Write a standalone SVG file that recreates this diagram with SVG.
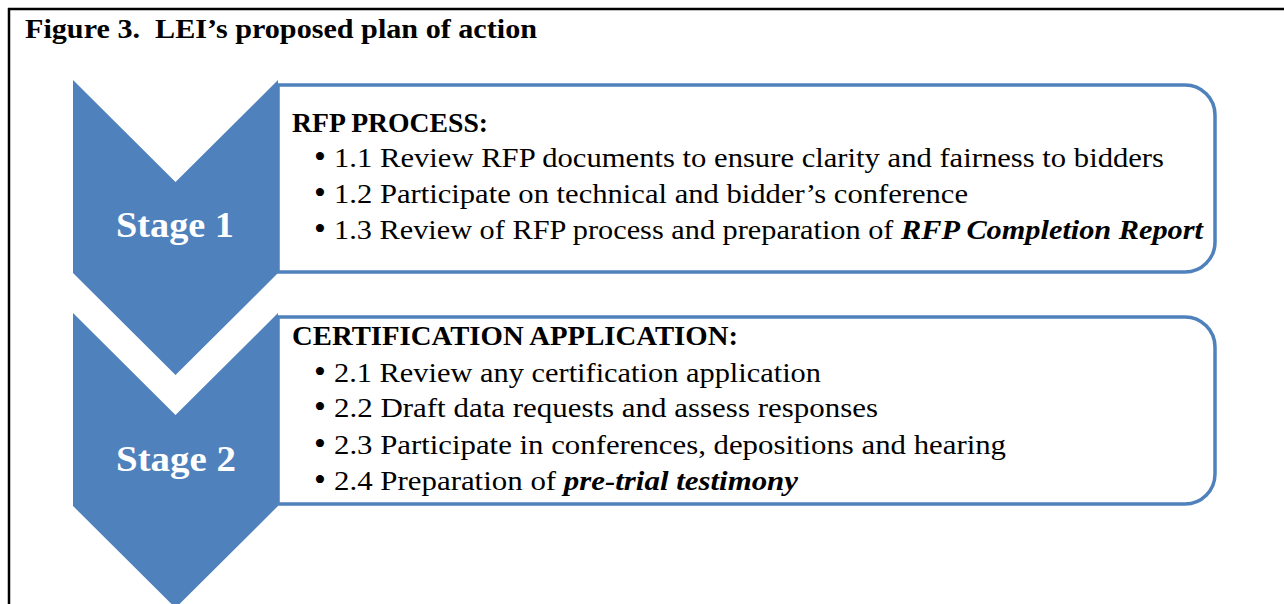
<svg xmlns="http://www.w3.org/2000/svg" width="1284" height="604" viewBox="0 0 1284 604">
<style>
.frame{stroke:#000;stroke-width:2.5;fill:none}
.chev{fill:#4F81BD}
.box{fill:#fff;stroke:#4F81BD;stroke-width:3.5}
.title{font-family:"Liberation Serif",serif;font-weight:bold;font-size:27px;fill:#000}
.stage{font-family:"Liberation Serif",serif;font-weight:bold;font-size:35px;fill:#fff;text-anchor:middle}
.head{font-family:"Liberation Serif",serif;font-weight:bold;font-size:27px;fill:#000}
.item{font-family:"Liberation Serif",serif;font-size:28px;fill:#000}
.bul{font-family:"Liberation Serif",serif;font-size:34px;fill:#000;text-anchor:middle}
.it{font-style:italic;font-weight:bold}
</style>
<rect width="1284" height="604" fill="#fff"/>
<g id="frame">
<line class="frame" x1="8" y1="9" x2="1284" y2="9"/>
<line class="frame" x1="9" y1="8" x2="9" y2="604"/>
</g>
<text id="title" class="title" x="25" y="38" xml:space="preserve" textLength="512" lengthAdjust="spacingAndGlyphs">Figure 3.  LEI’s proposed plan of action</text>
<g id="connectors"></g>
<g id="box1">
<path class="box" d="M278,85 H1185 A30,30 0 0 1 1215,115 V242 A30,30 0 0 1 1185,272 H278 Z"/>
<text class="head" x="292" y="132" textLength="196" lengthAdjust="spacingAndGlyphs">RFP PROCESS:</text>
<text class="bul" x="320" y="168">•</text>
<text class="item" x="334" y="167" textLength="830" lengthAdjust="spacingAndGlyphs">1.1 Review RFP documents to ensure clarity and fairness to bidders</text>
<text class="bul" x="320" y="204">•</text>
<text class="item" x="334" y="203" textLength="634" lengthAdjust="spacingAndGlyphs">1.2 Participate on technical and bidder’s conference</text>
<text class="bul" x="320" y="240">•</text>
<text class="item" x="334" y="239" textLength="869" lengthAdjust="spacingAndGlyphs">1.3 Review of RFP process and preparation of <tspan class="it">RFP Completion Report</tspan></text>
</g>
<g id="box2">
<path class="box" d="M278,317 H1185 A30,30 0 0 1 1215,347 V474 A30,30 0 0 1 1185,504 H278 Z"/>
<text class="head" x="292" y="345" textLength="446" lengthAdjust="spacingAndGlyphs">CERTIFICATION APPLICATION:</text>
<text class="bul" x="320" y="383">•</text>
<text class="item" x="334" y="382" textLength="487" lengthAdjust="spacingAndGlyphs">2.1 Review any certification application</text>
<text class="bul" x="320" y="418">•</text>
<text class="item" x="334" y="417" textLength="544" lengthAdjust="spacingAndGlyphs">2.2 Draft data requests and assess responses</text>
<text class="bul" x="320" y="455">•</text>
<text class="item" x="334" y="454" textLength="672" lengthAdjust="spacingAndGlyphs">2.3 Participate in conferences, depositions and hearing</text>
<text class="bul" x="320" y="491">•</text>
<text class="item" x="334" y="490" textLength="464" lengthAdjust="spacingAndGlyphs">2.4 Preparation of <tspan class="it">pre-trial testimony</tspan></text>
</g>
<g id="stage1">
<polygon class="chev" points="73,80 175.5,182 278,80 278,273 175.5,375 73,273"/>
<text class="stage" x="175" y="237" textLength="118" lengthAdjust="spacingAndGlyphs">Stage 1</text>
</g>
<g id="stage2">
<polygon class="chev" points="73,313 175.5,415 278,313 278,506 175.5,608 73,506"/>
<text class="stage" x="176" y="471" textLength="120" lengthAdjust="spacingAndGlyphs">Stage 2</text>
</g>
</svg>
